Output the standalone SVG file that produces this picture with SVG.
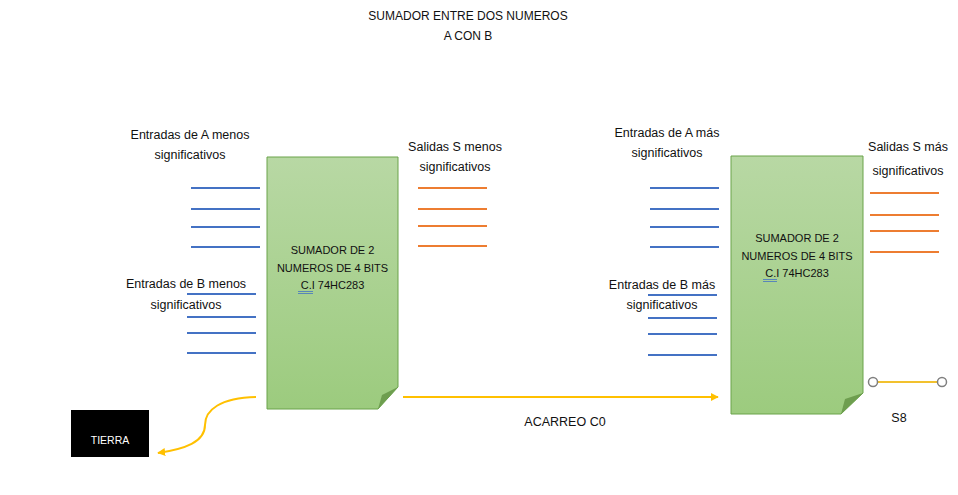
<svg xmlns="http://www.w3.org/2000/svg" width="958" height="495" viewBox="0 0 958 495">
<defs>
<linearGradient id="g" x1="0" y1="0" x2="0" y2="1">
<stop offset="0" stop-color="#b8d8a4"/>
<stop offset="1" stop-color="#9ccb7e"/>
</linearGradient>
<marker id="ah2" viewBox="0 0 10 10" refX="9" refY="5" markerWidth="8" markerHeight="8" orient="auto" markerUnits="userSpaceOnUse">
<path d="M0 0 L10 5 L0 10 z" fill="#ffc000"/>
</marker>
</defs>
<style>
text{font-family:"Liberation Sans",Arial,sans-serif;fill:#111}
.t{font-size:12.5px;text-anchor:middle}
.h{font-size:12px;text-anchor:middle}
.b{font-size:11px;text-anchor:middle}
.blue{stroke:#4472c4;stroke-width:2}
.or{stroke:#ed7d31;stroke-width:2}
.box{fill:url(#g);stroke:#6aa34a;stroke-width:1}
.fold{fill:#6e9e4f}
.y{stroke:#ffc000;stroke-width:2;fill:none}
.ul{stroke:#4472c4;stroke-width:0.8}
</style>
<rect width="958" height="495" fill="#fff"/>

<g id="title">
<text class="h" x="468" y="19.5">SUMADOR ENTRE DOS NUMEROS</text>
<text class="h" x="468" y="39.5">A CON B</text>
</g>

<g id="adder1">
<path class="box" d="M267 157 H398 V387 L378 409 H267 Z"/>
<path class="fold" d="M398 387 L378 409 L382 395 Z"/>
<text class="b" x="332.5" y="254">SUMADOR DE 2</text>
<text class="b" x="332.5" y="272">NUMEROS DE 4 BITS</text>
<text class="b" x="332.5" y="289">C.I 74HC283</text>
<line class="ul" x1="298" y1="291.5" x2="313" y2="291.5"/>
<line class="ul" x1="298" y1="293.5" x2="313" y2="293.5"/>
</g>

<g id="adder2">
<path class="box" d="M731 156 H863 V393 L841 414 H731 Z"/>
<path class="fold" d="M863 393 L841 414 L845 399 Z"/>
<text class="b" x="797" y="242">SUMADOR DE 2</text>
<text class="b" x="797" y="260">NUMEROS DE 4 BITS</text>
<text class="b" x="797" y="277">C.I 74HC283</text>
<line class="ul" x1="763" y1="279.5" x2="777" y2="279.5"/>
<line class="ul" x1="763" y1="281.5" x2="777" y2="281.5"/>
</g>

<g id="inA1">
<text class="t" x="190" y="139">Entradas de A menos</text>
<text class="t" x="190" y="159">significativos</text>
<line class="blue" x1="191" y1="188" x2="260" y2="188"/>
<line class="blue" x1="191" y1="209" x2="260" y2="209"/>
<line class="blue" x1="191" y1="227" x2="260" y2="227"/>
<line class="blue" x1="191" y1="247" x2="260" y2="247"/>
</g>

<g id="inB1">
<text class="t" x="186" y="288">Entradas de B menos</text>
<text class="t" x="186" y="309">significativos</text>
<line class="blue" x1="187" y1="294" x2="256" y2="294"/>
<line class="blue" x1="187" y1="317" x2="256" y2="317"/>
<line class="blue" x1="187" y1="333" x2="256" y2="333"/>
<line class="blue" x1="187" y1="353" x2="256" y2="353"/>
</g>

<g id="outS1">
<text class="t" x="455" y="151">Salidas S menos</text>
<text class="t" x="455" y="171">significativos</text>
<line class="or" x1="418" y1="188" x2="487" y2="188"/>
<line class="or" x1="418" y1="209" x2="487" y2="209"/>
<line class="or" x1="418" y1="226" x2="487" y2="226"/>
<line class="or" x1="418" y1="246" x2="487" y2="246"/>
</g>

<g id="inA2">
<text class="t" x="667" y="137">Entradas de A más</text>
<text class="t" x="667" y="157">significativos</text>
<line class="blue" x1="650" y1="188" x2="719" y2="188"/>
<line class="blue" x1="650" y1="209" x2="719" y2="209"/>
<line class="blue" x1="650" y1="227" x2="719" y2="227"/>
<line class="blue" x1="650" y1="247" x2="719" y2="247"/>
</g>

<g id="inB2">
<text class="t" x="662" y="289">Entradas de B más</text>
<text class="t" x="662" y="309">significativos</text>
<line class="blue" x1="648" y1="295" x2="717" y2="295"/>
<line class="blue" x1="648" y1="318" x2="717" y2="318"/>
<line class="blue" x1="648" y1="334" x2="717" y2="334"/>
<line class="blue" x1="648" y1="355" x2="717" y2="355"/>
</g>

<g id="outS2">
<text class="t" x="908" y="151">Salidas S más</text>
<text class="t" x="908" y="175">significativos</text>
<line class="or" x1="870" y1="193" x2="939" y2="193"/>
<line class="or" x1="870" y1="215" x2="939" y2="215"/>
<line class="or" x1="870" y1="231" x2="939" y2="231"/>
<line class="or" x1="870" y1="252" x2="939" y2="252"/>
</g>

<g id="tierra">
<rect x="71" y="410" width="78" height="47" fill="#000"/>
<text x="110" y="444" style="font-size:10.5px;text-anchor:middle;fill:#fff">TIERRA</text>
</g>

<g id="s8">
<text class="t" x="899" y="422">S8</text>
</g>

<g id="connectors">
<path class="y" d="M256 397 C220 398 205 410 205 425 C205 442 185 449 158 453" marker-end="url(#ah2)"/>
<line class="y" x1="403" y1="397" x2="718" y2="397" marker-end="url(#ah2)"/>
<line x1="877" y1="382" x2="938" y2="382" stroke="#f2c12e" stroke-width="2"/>
<circle cx="873" cy="382" r="4.5" fill="#fff" stroke="#7f7f7f" stroke-width="1.5"/>
<circle cx="942" cy="382" r="4.5" fill="#fff" stroke="#7f7f7f" stroke-width="1.5"/>
</g>

<g id="label-carry">
<text class="t" x="565" y="426">ACARREO C0</text>
</g>
</svg>
